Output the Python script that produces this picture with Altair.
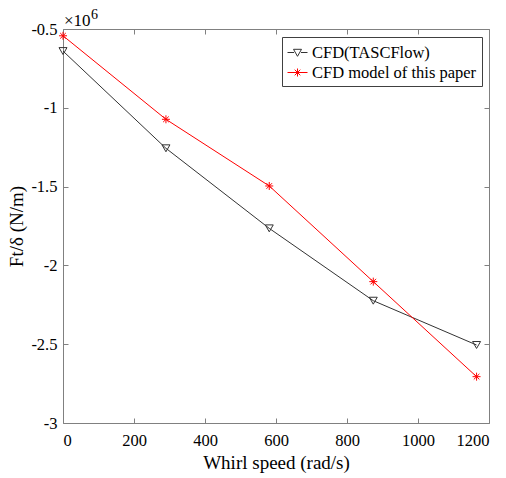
import altair as alt
import pandas as pd

# Tangential force stiffness vs whirl speed (values in 10^6 N/m)
whirl_speed = [0, 290, 581, 874, 1165]
ft_tascflow = [-0.640, -1.257, -1.765, -2.224, -2.505]
ft_model = [-0.543, -1.073, -1.496, -2.103, -2.706]
series_names = ["CFD(TASCFlow)", "CFD model of this paper"]
series_colors = ["#333333", "#ff0000"]
x_ticks = [0, 200, 400, 600, 800, 1000, 1200]
y_ticks = [-3, -2.5, -2, -1.5, -1, -0.5]
exponent_base = ["×10"]
exponent_power = ["6"]

rows = []
for name, values in zip(series_names, [ft_tascflow, ft_model]):
    for s, v in zip(whirl_speed, values):
        rows.append({"series": name, "speed": s, "ft": v})
df = pd.DataFrame(rows)

W, H = 426, 394
FONT = "Times New Roman, Liberation Serif, serif"
GRAY = "#808080"
TICK = 5

# marker shapes: open down-triangle and an eight-armed asterisk
star = "M-1,0H1M0,-1V1M-0.7,-0.7L0.7,0.7M-0.7,0.7L0.7,-0.7"
point_shapes = ["triangle-down", star]
# legend symbols: short line segment with the marker on it
legend_shapes = [
    "M-1,0H-0.35M0.35,0H1M-0.4,-0.32L0.4,-0.32L0,0.38Z",
    "M-1,0H1M0,-0.4V0.4M-0.28,-0.28L0.28,0.28M-0.28,0.28L0.28,-0.28",
]

x_enc = alt.X(
    "speed:Q",
    scale=alt.Scale(domain=[0, 1200], nice=False),
    axis=alt.Axis(
        values=x_ticks, title="Whirl speed (rad/s)", grid=True,
        gridDash=[TICK, H - 2 * TICK, TICK], ticks=False, domain=False,
        labelPadding=9, titlePadding=5, labelExpr="toString(datum.value)",
    ),
)
y_enc = alt.Y(
    "ft:Q",
    scale=alt.Scale(domain=[-3, -0.5], nice=False, zero=False),
    axis=alt.Axis(
        values=y_ticks, title="Ft/δ (N/m)", grid=True,
        gridDash=[TICK, W - 2 * TICK, TICK], ticks=False, domain=False,
        labelPadding=6, titlePadding=4, labelExpr="toString(datum.value)",
    ),
)

color_scale = alt.Scale(domain=series_names, range=series_colors)

lines = alt.Chart(df).mark_line(strokeWidth=1).encode(
    x=x_enc, y=y_enc,
    color=alt.Color("series:N", scale=color_scale, legend=None),
    detail="series:N",
)

points = alt.Chart(df).mark_point(filled=False, strokeWidth=1, size=64, opacity=1).encode(
    x=x_enc, y=y_enc,
    color=alt.Color("series:N", scale=color_scale, legend=None),
    shape=alt.Shape("series:N", scale=alt.Scale(domain=series_names, range=point_shapes), legend=None),
)

legend = alt.Legend(
    title=None, orient="none", legendX=219, legendY=8,
    symbolSize=400, symbolStrokeWidth=1, labelFont=FONT, labelFontSize=16.5,
    labelColor="black", labelLimit=400, strokeColor="#404040", fillColor="white",
    padding=5, rowPadding=1, labelOffset=4,
)

legend_layer = alt.Chart(df).transform_filter("false").mark_point(
    filled=False, strokeWidth=1, opacity=1
).encode(
    x=x_enc, y=y_enc,
    color=alt.Color("series:N", scale=color_scale, legend=legend),
    shape=alt.Shape("series:N", scale=alt.Scale(domain=series_names, range=legend_shapes), legend=legend),
)

exp_base = alt.Chart(pd.DataFrame({"t": exponent_base})).mark_text(
    align="left", baseline="alphabetic", font=FONT, fontSize=17, color="black"
).encode(text="t:N", x=alt.value(1), y=alt.value(-3))

exp_power = alt.Chart(pd.DataFrame({"t": exponent_power})).mark_text(
    align="left", baseline="alphabetic", font=FONT, fontSize=14, color="black"
).encode(text="t:N", x=alt.value(28), y=alt.value(-10))

chart = (
    alt.layer(lines, points, legend_layer, exp_base, exp_power)
    .resolve_scale(color="independent", shape="independent")
    .properties(
        width=W, height=H,
        autosize=alt.AutoSizeParams(type="none"),
        padding={"left": 63, "top": 29, "right": 17, "bottom": 55},
        background="white",
    )
    .configure(font=FONT)
    .configure_view(stroke=GRAY, strokeWidth=1)
    .configure_axis(
        labelFont=FONT, labelFontSize=16.5, labelColor="black",
        titleFont=FONT, titleFontSize=19, titleFontWeight="normal", titleColor="black",
        gridColor=GRAY, gridOpacity=1, gridWidth=1,
    )
    .configure_legend(labelFont=FONT)
)

chart.save("out.html", embed_options={"renderer": "svg", "actions": False})
